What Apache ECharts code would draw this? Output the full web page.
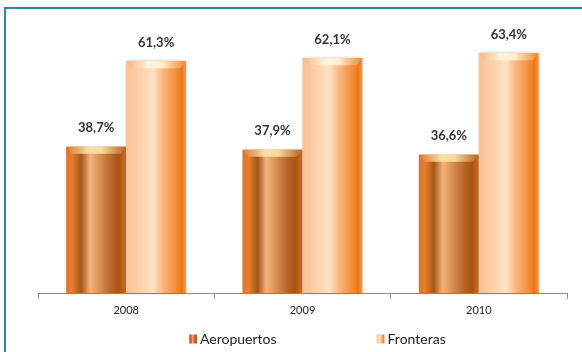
<!DOCTYPE html>
<html>
<head>
<meta charset="utf-8">
<script src="https://cdn.jsdelivr.net/npm/echarts@6/dist/echarts.min.js"></script>
<style>
  html, body { margin: 0; padding: 0; background: #fff; }
  #chart { width: 582px; height: 352px; }
  #frame {
    position: absolute; left: 4px; top: 7px; width: 700px; height: 400px;
    border-top: 2px solid #31859c; border-left: 2px solid #31859c;
    pointer-events: none;
  }
</style>
</head>
<body>
<div id="chart"></div>
<div id="frame"></div>
<script>
// Share of arrivals by entry point, per year
const years = ['2008', '2009', '2010'];
const aeropuertos = [38.7, 37.9, 36.6];
const fronteras = [61.3, 62.1, 63.4];
const seriesNames = ['Aeropuertos', 'Fronteras'];

const FONT = 'Lato, "Open Sans", sans-serif';
const CAT_GAP = 0.32;

function fmt(v) { return v.toFixed(1).replace('.', ',') + '%'; }

// horizontal "cylinder" shading for each series
const aeroFill = new echarts.graphic.LinearGradient(0, 0, 1, 0, [
  { offset: 0.00, color: '#dc742a' },
  { offset: 0.10, color: '#e97d2c' },
  { offset: 0.25, color: '#a5561b' },
  { offset: 0.40, color: '#f2b37c' },
  { offset: 0.55, color: '#dc9152' },
  { offset: 0.72, color: '#bb6c30' },
  { offset: 0.88, color: '#aa520f' },
  { offset: 1.00, color: '#cc702a' }
]);
const fronFill = new echarts.graphic.LinearGradient(0, 0, 1, 0, [
  { offset: 0.00, color: '#f9c193' },
  { offset: 0.28, color: '#fdd4ae' },
  { offset: 0.45, color: '#fee1c6' },
  { offset: 0.62, color: '#fbb57c' },
  { offset: 0.82, color: '#f3903e' },
  { offset: 0.93, color: '#ea7818' },
  { offset: 1.00, color: '#f19a50' }
]);

function barSeries(name, data, fill) {
  return {
    name: name,
    type: 'bar',
    data: data,
    barGap: '0%',
    barCategoryGap: (CAT_GAP * 100) + '%',
    itemStyle: {
      color: fill,
      shadowBlur: 3,
      shadowColor: 'rgba(0,0,0,0.25)'
    },
    label: {
      show: true,
      position: 'top',
      distance: 12,
      formatter: p => fmt(p.value),
      fontFamily: FONT,
      fontWeight: 'bold',
      fontSize: 13,
      color: '#333'
    },
    z: 2
  };
}

// bevelled highlight on the top of each bar
function bevelSeries(data, slot, tone) {
  return {
    type: 'custom',
    data: data.map((v, i) => [i, v]),
    silent: true,
    z: 3,
    renderItem: function (params, api) {
      const band = api.size([1, 0])[0];
      const bw = band * (1 - CAT_GAP) / 2;
      const top = api.coord([api.value(0), api.value(1)]);
      const x0 = top[0] - bw + slot * bw;
      const x1 = x0 + bw;
      const y = top[1];
      const h = 7, inset = 6;
      return {
        type: 'polygon',
        shape: { points: [[x0, y], [x1, y], [x1 - inset, y + h], [x0 + inset, y + h]] },
        style: {
          fill: new echarts.graphic.LinearGradient(0, 0, 1, 0, [
            { offset: 0, color: tone[0] },
            { offset: 0.35, color: tone[1] },
            { offset: 0.6, color: tone[1] },
            { offset: 1, color: tone[2] }
          ]),
          opacity: 0.9
        }
      };
    }
  };
}

const chart = echarts.init(document.getElementById('chart'));
chart.setOption({
  backgroundColor: '#ffffff',
  animation: false,
  grid: { left: 38, right: 15, top: 28.4, bottom: 59, containLabel: false },
  xAxis: {
    type: 'category',
    data: years,
    axisLine: { lineStyle: { color: '#8c8c8c', width: 1 } },
    axisTick: { show: true, length: 6, lineStyle: { color: '#8c8c8c' } },
    axisLabel: { fontFamily: FONT, fontSize: 11, color: '#222', margin: 12 }
  },
  yAxis: {
    type: 'value',
    min: 0,
    max: 70,
    show: false,
    splitLine: { show: false }
  },
  legend: {
    data: seriesNames,
    left: 184,
    top: 327,
    icon: 'rect',
    itemWidth: 8,
    itemHeight: 9,
    itemGap: 100,
    textStyle: { fontFamily: FONT, fontSize: 14, color: '#222', padding: [0, 0, 0, -2] }
  },
  series: [
    barSeries(seriesNames[0], aeropuertos, aeroFill),
    barSeries(seriesNames[1], fronteras, fronFill),
    bevelSeries(aeropuertos, 0, ['#d9782e', '#fbe2a8', '#b8621c']),
    bevelSeries(fronteras, 1, ['#f6b27a', '#fff4dc', '#ec8a30'])
  ]
});
</script>
</body>
</html>
